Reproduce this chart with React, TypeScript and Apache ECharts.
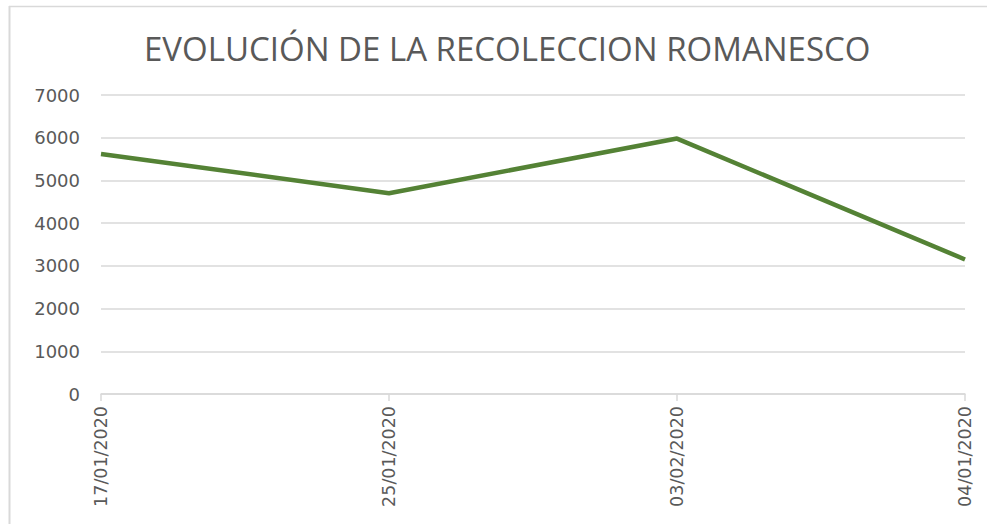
import React, { useEffect, useRef } from "react";
import * as echarts from "echarts";

const categories = ["17/01/2020", "25/01/2020", "03/02/2020", "04/01/2020"];
const values = [5620, 4700, 5980, 3150];
const title = "EVOLUCIÓN DE LA RECOLECCION ROMANESCO";

export default function App() {
  const ref = useRef<HTMLDivElement>(null);
  useEffect(() => {
    const chart = echarts.init(ref.current!, null, { renderer: "svg" });
    chart.setOption({
      animation: false,
      backgroundColor: "#ffffff",
      title: {
        text: title,
        left: 139,
        top: 27,
        textStyle: {
          fontFamily: "Open Sans, sans-serif",
          fontWeight: "normal",
          fontSize: 33,
          color: "#595959",
        },
      },
      grid: { left: 101, right: 22, top: 95, bottom: 130, containLabel: false },
      xAxis: {
        type: "category",
        data: categories,
        boundaryGap: false,
        axisLine: { lineStyle: { color: "#d9d9d9", width: 1.5 } },
        axisTick: { show: true, alignWithLabel: true, length: 7, lineStyle: { color: "#d9d9d9", width: 1.5 } },
        axisLabel: {
          rotate: 90,
          margin: 12,
          fontSize: 17.5,
          color: "#595959",
          fontFamily: "DejaVu Sans, sans-serif",
        },
      },
      yAxis: {
        type: "value",
        min: 0,
        max: 7000,
        interval: 1000,
        axisLine: { show: false },
        axisTick: { show: false },
        splitLine: { lineStyle: { color: "#d9d9d9", width: 1.5 } },
        axisLabel: {
          margin: 21,
          fontSize: 18,
          color: "#595959",
          fontFamily: "DejaVu Sans, sans-serif",
          formatter: (v: number) => String(v),
        },
      },
      series: [
        {
          type: "line",
          data: values,
          symbol: "none",
          lineStyle: { color: "#548235", width: 4.5 },
        },
      ],
      graphic: [
        {
          type: "line",
          shape: { x1: 9, y1: 6.5, x2: 987, y2: 6.5 },
          style: { stroke: "#d9d9d9", lineWidth: 1.5 },
          silent: true,
        },
        {
          type: "line",
          shape: { x1: 9.5, y1: 6, x2: 9.5, y2: 524 },
          style: { stroke: "#d9d9d9", lineWidth: 2 },
          silent: true,
        },
      ],
    });
    return () => chart.dispose();
  }, []);
  return <div ref={ref} style={{ width: 987, height: 524, position: "absolute", left: 0, top: 0 }} />;
}
